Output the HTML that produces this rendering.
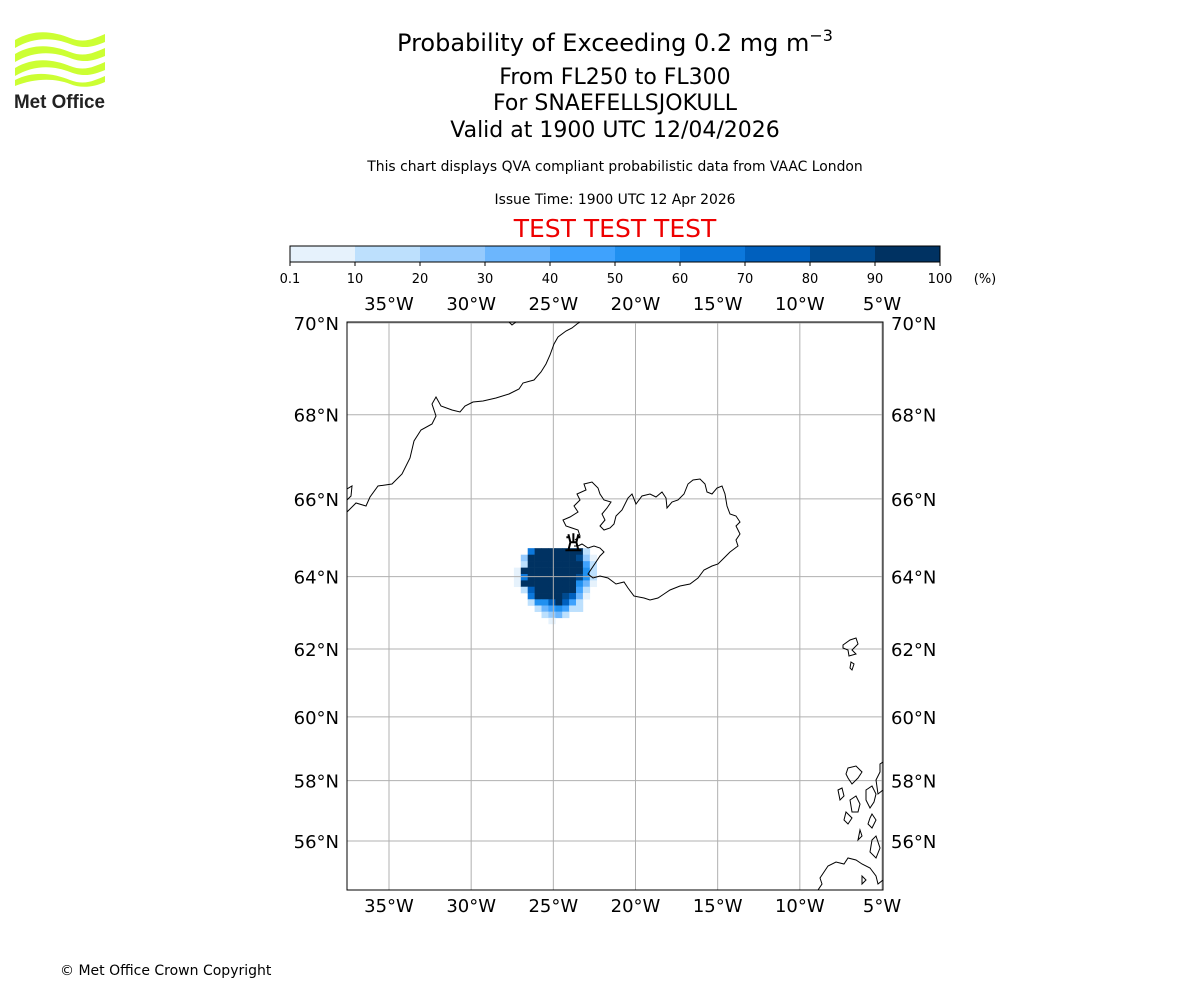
<!DOCTYPE html>
<html><head><meta charset="utf-8"><style>
body{margin:0;background:#fff;width:1200px;height:1000px;overflow:hidden;font-family:"DejaVu Sans","Liberation Sans",sans-serif}
</style></head><body>
<svg id="chart" width="1200" height="1000" xmlns="http://www.w3.org/2000/svg" font-family="DejaVu Sans, Liberation Sans, sans-serif">
<g>
 <path d="M15,40 C35,28 55,32 70,38 C85,44 95,38 105,34 L105,42 C95,46 85,50 70,44 C55,38 35,36 15,48Z" fill="#ccff33"/>
 <path d="M15,54 C35,42 55,46 70,52 C85,58 95,52 105,48 L105,56 C95,60 85,64 70,58 C55,52 35,50 15,62Z" fill="#ccff33"/>
 <path d="M15,68 C35,56 55,60 70,66 C85,72 95,66 105,62 L105,70 C95,74 85,78 70,72 C55,66 35,64 15,76Z" fill="#ccff33"/>
 <path d="M15,80 C35,70 55,74 70,80 C85,86 95,80 105,76 L105,82 C92,88 80,88 70,84 C55,78 35,78 15,86Z" fill="#ccff33"/>
 <text x="14" y="108" font-size="19" font-weight="bold" fill="#222" font-family="Liberation Sans, sans-serif" textLength="91" lengthAdjust="spacingAndGlyphs">Met Office</text>
</g>
<g text-anchor="middle" fill="#000">
 <text x="615" y="51" font-size="24">Probability of Exceeding 0.2 mg m<tspan font-size="16" dy="-10">−3</tspan></text>
 <text x="615" y="84" font-size="22">From FL250 to FL300</text>
 <text x="615" y="110" font-size="22">For SNAEFELLSJOKULL</text>
 <text x="615" y="137" font-size="22">Valid at 1900 UTC 12/04/2026</text>
 <text x="615" y="171" font-size="13.9">This chart displays QVA compliant probabilistic data from VAAC London</text>
 <text x="615" y="204" font-size="13.9">Issue Time: 1900 UTC 12 Apr 2026</text>
 <text x="615" y="237" font-size="25" fill="#ee0000">TEST TEST TEST</text>
</g>
<g id="cbar"></g>
<g id="map"></g>
<text x="60" y="975" font-size="14">© Met Office Crown Copyright</text>
</svg>
<script>
const levelBounds=["0.1","10","20","30","40","50","60","70","80","90","100"];
const levelColors=["#e6f2fc","#bde0fd","#95cafd","#6cb6fd","#3fa2fd","#2090f0","#0c78dc","#0060be","#004a8f","#003262"];
const lonTicks=[-35,-30,-25,-20,-15,-10,-5];
const latTicks=[56,58,60,62,64,66,68,70];
const plumeLon0=-27.4, plumeLat0=64.75, plumeDLon=0.42, plumeDLat=0.17;
const plumeRows=[
"..7aaaaaaa2.",
".3aaaaaaa931",
".2aaaaaaaa52",
"1aaaaaaaaa62",
"17aaaaaaa962",
"1aaaaaaaa641",
".28aaaaaa52.",
"..7aaaa9841.",
"..2668a852..",
"...2456522..",
"....2342....",
".....1......"];
const NS="http://www.w3.org/2000/svg";
function el(t,a,p){const e=document.createElementNS(NS,t);for(const k in a)e.setAttribute(k,a[k]);p.appendChild(e);return e;}
const cb=document.getElementById('cbar');const cx0=290,cx1=940,cy=246,ch=16;
const cw=(cx1-cx0)/levelColors.length;
levelColors.forEach((c,i)=>{const r=el('rect',{x:cx0+i*cw,y:cy,width:cw+0.5,height:ch,fill:c},cb);

});
el('rect',{x:cx0,y:cy,width:cx1-cx0,height:ch,fill:'none',stroke:'#000','stroke-width':1},cb);
levelBounds.forEach((b,i)=>{const x=cx0+i*cw;el('line',{x1:x,x2:x,y1:cy+ch,y2:cy+ch+4,stroke:'#000'},cb);
const t=el('text',{x:x,y:283,'font-size':13,'text-anchor':'middle'},cb);t.textContent=b;

});
const pu=el('text',{x:985,y:283,'font-size':13,'text-anchor':'middle'},cb);pu.textContent='(%)';


const m=document.getElementById('map');
const L=347,R=883,T=322,B=890;
const lonPx=(882-389)/30;
const X=lon=>389+(lon+35)*lonPx;
const merc=lat=>Math.log(Math.tan(Math.PI/4+lat*Math.PI/360));
const ky=(841-323)/(merc(70)-merc(56));
const Y=lat=>323+(merc(70)-merc(lat))*ky;
const clip=el('clipPath',{id:'mc'},m);el('rect',{x:L,y:T,width:R-L,height:B-T},clip);
const inner=el('g',{'clip-path':'url(#mc)'},m);
plumeRows.forEach((row,r)=>{[...row].forEach((ch,c)=>{if(ch==='.')return;const lv=ch==='a'?10:+ch;
const lo=plumeLon0+c*plumeDLon, la=plumeLat0-r*plumeDLat;
const x0=X(lo),x1=X(lo+plumeDLon),y0=Y(la),y1=Y(la-plumeDLat);
const e=el('rect',{x:x0,y:y0,width:x1-x0+0.3,height:y1-y0+0.3,fill:levelColors[lv-1]},inner);

});});
lonTicks.forEach(v=>el('line',{x1:X(v),x2:X(v),y1:T,y2:B,stroke:'#b0b0b0','stroke-width':1},inner));
latTicks.forEach(v=>el('line',{x1:L,x2:R,y1:Y(v),y2:Y(v),stroke:'#b0b0b0','stroke-width':1},inner));
const coast=[
"M347,489 L352,486 L351,496 L347,500 M347,512 L356,503 L366,506 L370,497 L378,486 L392,484 L402,474 L410,458 L414,441 L421,430 L432,424 L436,416 L432,404 L436,397 L441,406 L452,410 L460,412 L465,406 L473,402 L483,401 L496,398 L509,394 L519,389 L523,383 L534,380 L541,372 L546,364 L550,355 L554,344 L558,337 L566,331 L572,328 L577,324 L580,322",
"M509,322 L512,325 L516,322",
"M575,540 L580,536 L578,530 L572,528 L566,526 L563,520 L570,517 L578,512 L574,506 L580,500 L577,494 L586,490 L584,484 L592,482 L598,488 L600,494 L604,500 L611,502 L607,508 L602,514 L605,520 L600,526 L604,530 L610,528 L614,524 L616,516 L622,510 L628,498 L632,494 L636,504 L642,496 L650,494 L656,497 L662,492 L666,498 L667,508 L672,502 L678,500 L684,494 L688,484 L693,480 L700,479 L705,484 L707,492 L712,494 L717,488 L722,486 L725,494 L727,506 L730,514 L736,516 L740,522 L736,526 L740,534 L736,540 L738,546 L730,552 L724,558 L718,564 L712,566 L704,570 L698,578 L690,584 L680,586 L670,590 L664,594 L658,598 L650,600 L644,598 L634,596 L628,588 L624,582 L616,584 L608,578 L600,576 L593,578 L588,574 L592,568 L596,562 L600,556 L604,552 L600,548 L594,546 L588,548 L582,544 L578,546 L574,546",
"M843,645 L850,640 L856,638 L858,644 L852,650 L856,654 L849,656 L848,650 L843,648Z M851,662 L854,664 L852,670 L850,668Z",
"M848,768 L856,766 L862,772 L858,778 L852,784 L848,778 L846,774Z M838,790 L842,788 L844,796 L840,800Z M850,800 L856,796 L860,804 L858,812 L852,812Z M846,812 L852,818 L848,824 L844,820Z M860,830 L862,836 L858,840Z M880,764 L883,762 L883,790 L878,794 L876,780 L880,772Z M866,790 L872,786 L876,794 L874,802 L870,808 L866,800Z M872,814 L876,820 L872,828 L868,824 L870,818Z M872,840 L876,836 L880,848 L876,858 L870,852Z M820,878 L828,866 L836,862 L844,864 L848,858 L856,860 L862,864 L870,868 L876,876 L878,884 L883,880 L883,890 L818,890 L822,884Z M862,876 L866,880 L862,884Z"
];
coast.forEach(d=>{const p=el('path',{d:d,fill:'none',stroke:'#000','stroke-width':1},inner);

});
const vx=X(-23.78),vy=Y(64.8);
const vm=el('g',{},inner);


el('path',{d:`M${vx-5},${vy+4} L${vx-3},${vy-4} L${vx+3},${vy-4} L${vx+5},${vy+4}Z M${vx-8},${vy+4} L${vx+8},${vy+4} M${vx-5},${vy-12} L${vx-3},${vy-4} M${vx},${vy-13} L${vx},${vy-4} M${vx+5},${vy-12} L${vx+3},${vy-4} M${vx-7},${vy-9} L${vx-4},${vy-9} M${vx+7},${vy-9} L${vx+4},${vy-9}`,fill:'none',stroke:'#000','stroke-width':2},vm);
el('rect',{x:L,y:T,width:R-L,height:B-T,fill:'none',stroke:'#000','stroke-width':1},m);
const lab=(txt,x,y,anchor,name)=>{const t=el('text',{x:x,y:y,'font-size':18,'text-anchor':anchor},m);t.textContent=txt;

};
lonTicks.forEach(v=>{const s=Math.abs(v)+'°W';lab(s,X(v),310,'middle','lon-label-top');lab(s,X(v),912,'middle','lon-label-bottom');});
latTicks.forEach(v=>{const s=v+'°N';lab(s,339,Y(v)+7,'end','lat-label-left');lab(s,891,Y(v)+7,'start','lat-label-right');});
</script>
</body></html>
